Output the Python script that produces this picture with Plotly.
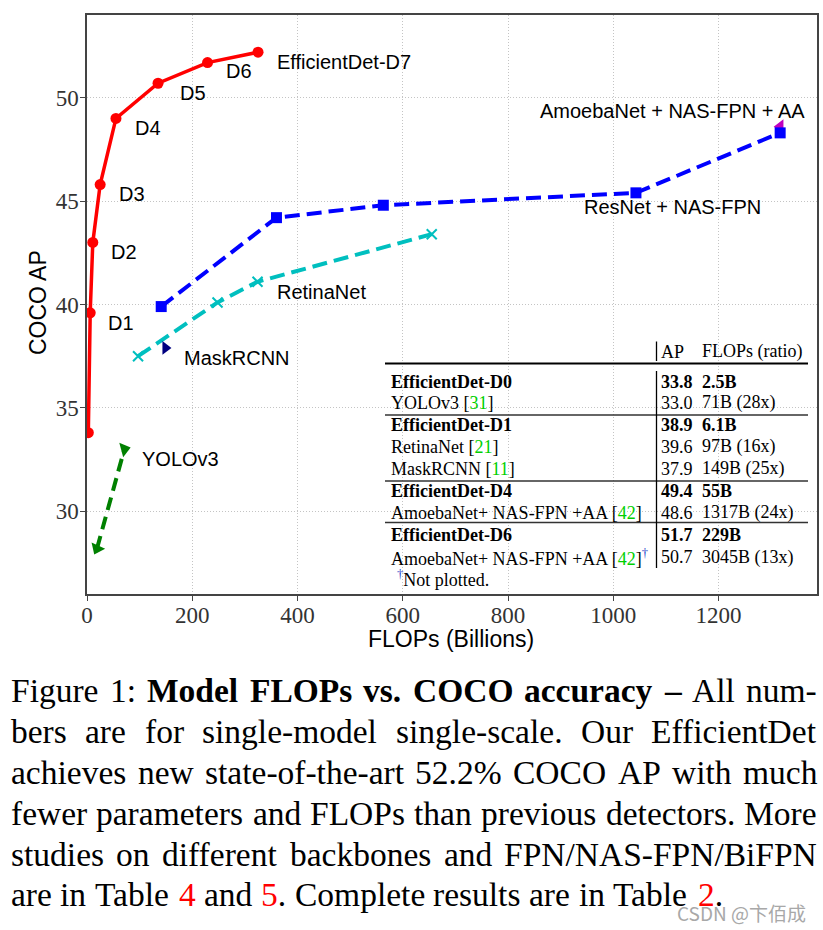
import plotly.graph_objects as go

# ---------------- data ----------------
effdet_flops = [2.5, 6.1, 11, 25, 55, 135, 229, 325]
effdet_ap = [33.8, 39.6, 43.0, 45.8, 49.0, 50.7, 51.7, 52.2]

nasfpn_flops = [141, 360, 563, 1043, 1317]
nasfpn_ap = [39.9, 44.2, 44.8, 45.4, 48.3]

retina_flops = [97, 248, 324, 655]
retina_ap = [37.5, 40.1, 41.1, 43.4]

maskrcnn_flops = [149]
maskrcnn_ap = [37.9]

yolo_flops = [19, 71]
yolo_ap = [28.2, 33.0]

amoeba_flops = [1317]
amoeba_ap = [48.6]

x_ticks = [0, 200, 400, 600, 800, 1000, 1200]
y_ticks = [30, 35, 40, 45, 50]

# point labels: (text, x, y)
point_labels = [
    ("EfficientDet-D7", 357, 51.74),
    ("D6", 260, 51.28),
    ("D5", 173, 50.24),
    ("D4", 87, 48.55),
    ("D3", 57, 45.36),
    ("D2", 42, 42.55),
    ("D1", 36, 39.10),
    ("RetinaNet", 357, 40.59),
    ("MaskRCNN", 180, 37.43),
    ("YOLOv3", 101, 32.52),
    ("AmoebaNet + NAS-FPN + AA", 857, 49.37),
    ("ResNet + NAS-FPN", 940, 44.70),
]

GREEN = "#00d000"
DAG = "#1a3cc8"
table_header = ["AP", "FLOPs (ratio)"]
table_rows = [
    ("EfficientDet-D0", "33.8", "2.5B", True),
    ("YOLOv3 [<span style='color:%s'>31</span>]" % GREEN, "33.0", "71B (28x)", False),
    ("EfficientDet-D1", "38.9", "6.1B", True),
    ("RetinaNet [<span style='color:%s'>21</span>]" % GREEN, "39.6", "97B (16x)", False),
    ("MaskRCNN [<span style='color:%s'>11</span>]" % GREEN, "37.9", "149B (25x)", False),
    ("EfficientDet-D4", "49.4", "55B", True),
    ("AmoebaNet+ NAS-FPN +AA [<span style='color:%s'>42</span>]" % GREEN, "48.6", "1317B (24x)", False),
    ("EfficientDet-D6", "51.7", "229B", True),
    ("AmoebaNet+ NAS-FPN +AA [<span style='color:%s'>42</span>]<sup><span style='color:%s'>†</span></sup>" % (GREEN, DAG), "50.7", "3045B (13x)", False),
]
table_note = "<sup><span style='color:%s'>†</span></sup>Not plotted." % DAG

caption_lines = [
    [("Figure", 0, None), ("1:", 0, None), ("Model", 1, None), ("FLOPs", 1, None), ("vs.", 1, None),
     ("COCO", 1, None), ("accuracy", 1, None), ("–", 1, None), ("All", 0, None), ("num-", 0, None)],
    [(w, 0, None) for w in "bers are for single-model single-scale. Our EfficientDet".split()],
    [(w, 0, None) for w in "achieves new state-of-the-art 52.2% COCO AP with much".split()],
    [(w, 0, None) for w in "fewer parameters and FLOPs than previous detectors. More".split()],
    [(w, 0, None) for w in "studies on different backbones and FPN/NAS-FPN/BiFPN".split()],
    [("are", 0, None), ("in", 0, None), ("Table", 0, None), ("4", 0, "red"), ("and", 0, None),
     ("5.", 0, "red1"), ("Complete", 0, None), ("results", 0, None), ("are", 0, None),
     ("in", 0, None), ("Table", 0, None), ("2.", 0, "red1")],
]

# ---------------- layout geometry (pixels) ----------------
W, H = 823, 930
PL, PR, PT, PB = 87, 817, 15, 594


def pxx(x):
    return (x - PL) / (PR - PL)


def pxy(y):
    return (PB - y) / (PB - PT)


fig = go.Figure()

fig.add_trace(go.Scatter(x=amoeba_flops, y=amoeba_ap, mode="markers",
                         marker=dict(symbol="triangle-left", size=13, color="#bf00bf")))
fig.add_trace(go.Scatter(x=nasfpn_flops, y=nasfpn_ap, mode="lines+markers",
                         line=dict(color="#0000ff", width=4, dash="15px,7px"),
                         marker=dict(symbol="square", size=11, color="#0000ff")))
fig.add_trace(go.Scatter(x=retina_flops, y=retina_ap, mode="lines+markers",
                         line=dict(color="#00bfbf", width=4, dash="15px,7px"),
                         marker=dict(symbol="x-thin", size=10, line=dict(color="#00bfbf", width=2))))
fig.add_trace(go.Scatter(x=maskrcnn_flops, y=maskrcnn_ap, mode="markers",
                         marker=dict(symbol="triangle-right", size=12, color="#000080")))
fig.add_trace(go.Scatter(x=yolo_flops, y=yolo_ap, mode="lines+markers",
                         line=dict(color="#008000", width=4, dash="13px,7px"),
                         marker=dict(symbol=["triangle-down", "triangle-right"], angle=[25, -15],
                                     size=13, color="#008000")))
fig.add_trace(go.Scatter(x=effdet_flops, y=effdet_ap, mode="lines+markers",
                         line=dict(color="#ff0000", width=3.5),
                         marker=dict(symbol="circle", size=11, color="#ff0000")))

ann = []
for t, x, y in point_labels:
    ann.append(dict(x=x, y=y, xref="x", yref="y", text=t, showarrow=False, xanchor="left",
                    yanchor="middle", font=dict(family="Liberation Sans", size=20, color="black")))

# axis titles
ann.append(dict(x=pxx(451), y=pxy(639), xref="paper", yref="paper", text="FLOPs (Billions)",
                showarrow=False, xanchor="center", yanchor="middle",
                font=dict(family="Liberation Sans", size=23, color="black")))
ann.append(dict(x=pxx(38), y=pxy(303), xref="paper", yref="paper", text="COCO AP", textangle=-90,
                showarrow=False, xanchor="center", yanchor="middle",
                font=dict(family="Liberation Sans", size=23, color="black")))

# ---------------- table ----------------
TF = dict(family="Liberation Serif", size=18, color="black")
c0, c1, c2 = 389, 659, 700
row_y = [381.5, 402.5, 425, 446.5, 468.5, 490.5, 512.5, 535, 557]
ann.append(dict(x=pxx(c1), y=pxy(351.5), xref="paper", yref="paper", text=table_header[0],
                showarrow=False, xanchor="left", yanchor="middle", font=TF))
ann.append(dict(x=pxx(c2), y=pxy(351.5), xref="paper", yref="paper", text=table_header[1],
                showarrow=False, xanchor="left", yanchor="middle", font=TF))
for (name, ap, fl, bold), yy in zip(table_rows, row_y):
    f = (lambda s: "<b>%s</b>" % s) if bold else (lambda s: s)
    for txt, xx in ((name, c0), (ap, c1), (fl, c2)):
        ann.append(dict(x=pxx(xx), y=pxy(yy), xref="paper", yref="paper", text=f(txt),
                        showarrow=False, xanchor="left", yanchor="middle", font=TF))
ann.append(dict(x=pxx(395), y=pxy(578.5), xref="paper", yref="paper", text=table_note,
                showarrow=False, xanchor="left", yanchor="middle", font=TF))

shapes = []
shapes.append(dict(type="line", xref="paper", yref="paper", x0=pxx(385), x1=pxx(808),
                   y0=pxy(363.5), y1=pxy(363.5), line=dict(color="black", width=2)))
for yy in (415, 481, 522.5):
    shapes.append(dict(type="line", xref="paper", yref="paper", x0=pxx(385), x1=pxx(808),
                       y0=pxy(yy), y1=pxy(yy), line=dict(color="#333333", width=1.3)))
shapes.append(dict(type="line", xref="paper", yref="paper", x0=pxx(656.5), x1=pxx(656.5),
                   y0=pxy(341.5), y1=pxy(361), line=dict(color="black", width=1.3)))
shapes.append(dict(type="line", xref="paper", yref="paper", x0=pxx(656.5), x1=pxx(656.5),
                   y0=pxy(371), y1=pxy(568), line=dict(color="black", width=1.3)))

# ---------------- caption (justified) ----------------
TR = {' ': 250, '%': 833, '-': 333, '.': 250, '/': 278, ':': 278, '–': 500, '1': 500, '2': 500,
      '4': 500, '5': 500,
      'A': 722, 'B': 667, 'C': 667, 'D': 722, 'E': 611, 'F': 556, 'I': 333, 'L': 611, 'M': 889,
      'N': 722, 'O': 722, 'P': 556, 'S': 556, 'T': 611,
      'a': 444, 'b': 500, 'c': 444, 'd': 500, 'e': 444, 'f': 333, 'g': 500, 'h': 500, 'i': 278,
      'k': 500, 'l': 278, 'm': 778, 'n': 500, 'o': 500, 'p': 500, 'r': 333, 's': 389, 't': 278,
      'u': 500, 'v': 500, 'w': 722, 'x': 500, 'y': 500}
TB = {'.': 250, '–': 500, 'C': 722, 'F': 611, 'L': 667, 'M': 944, 'O': 778, 'P': 611,
      'a': 500, 'c': 444, 'd': 556, 'e': 444, 'l': 278, 'o': 500, 'r': 444, 's': 389, 'u': 556,
      'v': 500, 'y': 500}
CFS = 33.5
CX0, CX1 = 10, 816
line_y = [690, 731, 772, 813, 854, 894]
for li, (words, yy) in enumerate(zip(caption_lines, line_y)):
    widths = []
    for w, b, c in words:
        tab = TB if b else TR
        widths.append(sum(tab.get(ch, 500) for ch in w) * CFS / 1000.0)
    if li < len(caption_lines) - 1:
        gap = (CX1 - CX0 - sum(widths)) / (len(words) - 1)
    else:
        gap = 250 * CFS / 1000.0
    xcur = CX0
    for (w, b, c), wd in zip(words, widths):
        if c == "red":
            txt = "<span style='color:#ff0000'>%s</span>" % w
        elif c == "red1":
            txt = "<span style='color:#ff0000'>%s</span>%s" % (w[:-1], w[-1])
        else:
            txt = w
        if b:
            txt = "<b>%s</b>" % txt
        ann.append(dict(x=pxx(xcur), y=pxy(yy), xref="paper", yref="paper", text=txt,
                        showarrow=False, xanchor="left", yanchor="middle", borderpad=0,
                        font=dict(family="Liberation Serif", size=CFS, color="black")))
        xcur += wd + gap

ann.append(dict(x=pxx(808), y=pxy(912), xref="paper", yref="paper", text="CSDN @卞佰成",
                showarrow=False, xanchor="right", yanchor="middle",
                font=dict(family="Noto Sans CJK SC", size=19, color="#a8a8a8")))

axis_common = dict(showgrid=True, gridcolor="#c4c4c4", gridwidth=1, griddash="1px,2px",
                   showline=True, linecolor="#444444", linewidth=1.5, mirror=True,
                   ticks="outside", ticklen=5, tickcolor="#444444", tickwidth=1.2,
                   zeroline=False,
                   tickfont=dict(family="Liberation Serif", size=23, color="#333333"))

fig.update_layout(
    width=W, height=H,
    margin=dict(l=PL, r=W - PR, t=PT, b=H - PB, autoexpand=False),
    paper_bgcolor="white", plot_bgcolor="white",
    showlegend=False,
    xaxis=dict(range=[0, 1387], tickvals=x_ticks, ticktext=[str(v) for v in x_ticks],
               ticklabelstandoff=-5, **axis_common),
    yaxis=dict(range=[26, 54], tickvals=y_ticks, ticktext=[str(v) for v in y_ticks],
               ticklabelstandoff=-3, **axis_common),
    annotations=ann,
    shapes=shapes,
)

fig.write_html("out.html", config={"displayModeBar": False})

# remove the browser's default page margin so the figure sits at the window origin
with open("out.html", "r", encoding="utf-8") as fh:
    html = fh.read()
html = html.replace("<head>", "<head><style>html,body{margin:0;padding:0;overflow:hidden;}</style>", 1)
with open("out.html", "w", encoding="utf-8") as fh:
    fh.write(html)
